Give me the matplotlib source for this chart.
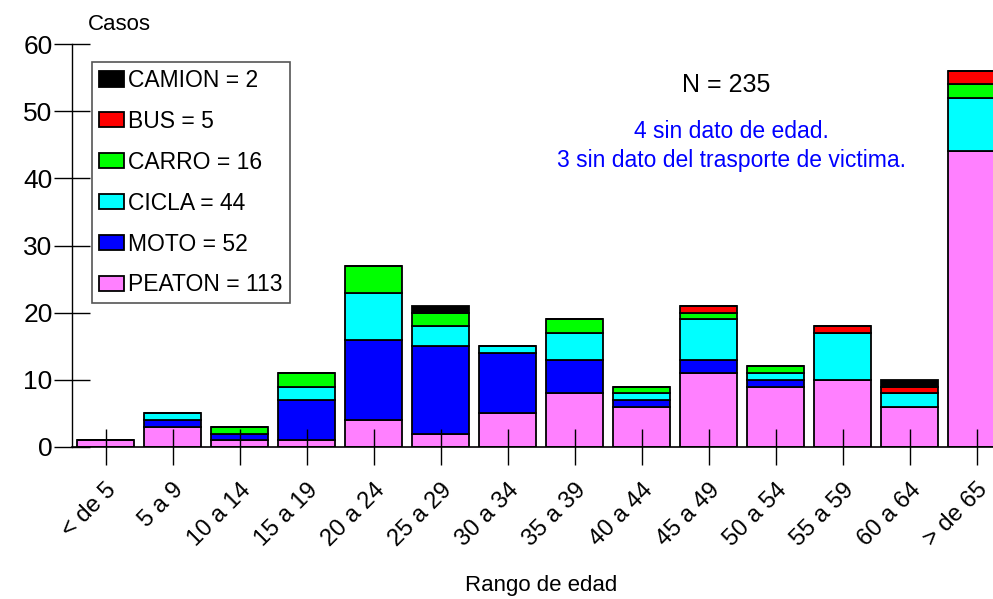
import matplotlib.pyplot as plt
import numpy as np

plt.rcParams['font.family'] = ['Liberation Sans', 'DejaVu Sans']

rangos = ['< de 5', '5 a 9', '10 a 14', '15 a 19', '20 a 24', '25 a 29', '30 a 34',
          '35 a 39', '40 a 44', '45 a 49', '50 a 54', '55 a 59', '60 a 64', '> de 65']

# casos por tipo de transporte de la victima, de abajo hacia arriba
peaton = [1, 3, 1, 1, 4, 2, 5, 8, 6, 11, 9, 10, 6, 44]
moto   = [0, 1, 1, 6, 12, 13, 9, 5, 1, 2, 1, 0, 0, 0]
cicla  = [0, 1, 0, 2, 7, 3, 1, 4, 1, 6, 1, 7, 2, 8]
carro  = [0, 0, 1, 2, 4, 2, 0, 2, 1, 1, 1, 0, 0, 2]
bus    = [0, 0, 0, 0, 0, 0, 0, 0, 0, 1, 0, 1, 1, 2]
camion = [0, 0, 0, 0, 0, 1, 0, 0, 0, 0, 0, 0, 1, 0]

series = [
    ('PEATON = 113', peaton, '#ff80ff'),
    ('MOTO = 52', moto, '#0000ff'),
    ('CICLA = 44', cicla, '#00ffff'),
    ('CARRO = 16', carro, '#00ff00'),
    ('BUS = 5', bus, '#ff0000'),
    ('CAMION = 2', camion, '#000000'),
]

x = np.arange(len(rangos))
width = 0.84

fig = plt.figure(figsize=(9.93, 5.99), dpi=100)
ax = fig.add_axes([72 / 993, 152 / 599, 938 / 993, 403 / 599])

bottom = np.zeros(len(rangos))
handles = []
for nombre, valores, color in series:
    v = np.array(valores, dtype=float)
    b = ax.bar(x, v, width, bottom=bottom, color=color, edgecolor='black',
               linewidth=1.3, label=nombre, zorder=1)
    handles.append(b)
    bottom += v

ax.set_xlim(-0.5, len(rangos) - 0.5)
ax.set_ylim(0, 60)
ax.set_yticks(range(0, 61, 10))
ax.set_xticks(x)
ax.set_xticklabels(rangos, rotation=45, ha='right', va='top', rotation_mode='anchor')
ax.tick_params(axis='both', direction='inout', length=26, width=1)
ax.tick_params(axis='x', pad=10, labelsize=17)
ax.tick_params(axis='y', pad=1, labelsize=19)

for s in ['top', 'right']:
    ax.spines[s].set_visible(False)
ax.spines['left'].set_linewidth(1)
ax.spines['bottom'].set_linewidth(1.2)

ax.text(-0.27, 61.3, 'Casos', fontsize=16, ha='left', va='bottom')
fig.text(0.545, 0.005, 'Rango de edad', fontsize=16, ha='center', va='bottom')

ax.text(0.697, 0.898, 'N = 235', transform=ax.transAxes, fontsize=18,
        ha='center', va='center')
ax.text(0.703, 0.747, '4 sin dato de edad.\n3 sin dato del trasporte de victima.',
        transform=ax.transAxes, fontsize=16.5, color='#0000ff', ha='center',
        va='center', linespacing=1.35)

leg = ax.legend(handles[::-1], [s[0] for s in series][::-1], loc='upper left',
                bbox_to_anchor=(0.021, 0.955), borderaxespad=0, fontsize=16.5,
                frameon=True, fancybox=False, edgecolor='#555555', framealpha=1,
                handlelength=1.1, handleheight=0.65, handletextpad=0.2,
                labelspacing=0.78, borderpad=0.3)
leg.get_frame().set_linewidth(1.2)

fig.savefig('out.png', dpi=100)
